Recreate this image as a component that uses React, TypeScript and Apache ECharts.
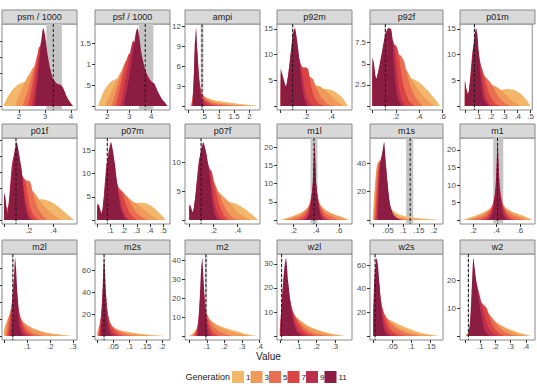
import React, { useEffect, useRef } from 'react';
import * as echarts from 'echarts';

type Pt = [number, number];
type Curves = Pt[][];

const generations = ['1', '3', '5', '7', '9', '11'];
const genColors = ['#f2b76b', '#f09a5a', '#ea6e51', '#da4544', '#bc2e4e', '#8c1d42'];

const facetNames = [
  'psm / 1000', 'psf / 1000', 'ampi', 'p92m', 'p92f', 'p01m',
  'p01f', 'p07m', 'p07f', 'm1l', 'm1s', 'm1',
  'm2l', 'm2s', 'm2', 'w2l', 'w2s', 'w2',
];

const xRanges: [number, number][] = [
  [1.35, 4.23], [1.44, 4.86], [-0.115, 2.35], [-0.029, 0.56], [-0.02, 0.603], [-0.037, 0.512],
  [-0.016, 0.59], [-0.017, 0.55], [-0.036, 0.584], [0.055, 0.714], [-0.009, 0.229], [0.086, 0.729],
  [-0.009, 0.316], [-0.007, 0.224], [-0.024, 0.402], [-0.016, 0.393], [-0.009, 0.184], [-0.033, 0.46],
];

const xTicks: number[][] = [
  [2, 3, 4], [2, 3, 4], [0, 0.5, 1, 1.5, 2], [0, 0.2, 0.4], [0, 0.2, 0.4, 0.6], [0, 0.1, 0.2, 0.3, 0.4, 0.5],
  [0, 0.2, 0.4], [0, 0.1, 0.2, 0.3, 0.4, 0.5], [0, 0.2, 0.4], [0.2, 0.4, 0.6], [0, 0.05, 0.1, 0.15, 0.2], [0.2, 0.4, 0.6],
  [0, 0.1, 0.2, 0.3], [0, 0.05, 0.1, 0.15, 0.2], [0, 0.1, 0.2, 0.3, 0.4], [0, 0.1, 0.2, 0.3], [0, 0.05, 0.1, 0.15], [0, 0.1, 0.2, 0.3, 0.4],
];

const yTicks: number[][] = [
  [0, 0.5, 1, 1.5, 2], [0, 0.5, 1, 1.5], [0, 3, 6, 9, 12], [0, 5, 10, 15], [0, 2.5, 5, 7.5], [0, 5, 10, 15],
  [0, 3, 6, 9, 12, 15], [0, 5, 10, 15], [0, 5, 10], [0, 5, 10, 15, 20], [0, 20, 40], [0, 5, 10, 15, 20],
  [0, 15, 30, 45, 60], [0, 20, 40, 60], [0, 10, 20, 30, 40], [0, 10, 20, 30], [0, 20, 40, 60], [0, 10, 20],
];

const bandLo = [3.05, 3.44, 0.40, 0.088, 0.105, 0.068, 0.092, 0.072, 0.092, 0.35, 0.109, 0.371, 0.035, 0.019, 0.089, 0.007, 0.003, 0.019];
const bandHi = [3.65, 4.10, 0.49, 0.100, 0.117, 0.078, 0.102, 0.080, 0.102, 0.41, 0.132, 0.457, 0.041, 0.023, 0.102, 0.011, 0.006, 0.025];
const refLine = [3.32, 3.73, 0.445, 0.094, 0.111, 0.073, 0.097, 0.076, 0.097, 0.38, 0.122, 0.408, 0.038, 0.021, 0.095, 0.009, 0.0045, 0.022];

const psm: Curves = [
  [[1.40, 0], [1.55, 0.25], [1.75, 0.5], [2.0, 0.68], [2.25, 0.76], [2.5, 0.8], [2.8, 0.8], [3.1, 0.75], [3.4, 0.62], [3.7, 0.45], [3.9, 0.2], [4.08, 0]],
  [[1.85, 0], [2.05, 0.4], [2.3, 0.85], [2.45, 1.05], [2.55, 1.19], [2.7, 1.1], [2.95, 0.95], [3.2, 0.8], [3.5, 0.6], [3.7, 0.5], [3.9, 0.2], [4.08, 0]],
  [[2.15, 0], [2.35, 0.5], [2.55, 1.1], [2.65, 1.4], [2.72, 1.59], [2.85, 1.45], [3.0, 1.2], [3.2, 0.9], [3.45, 0.65], [3.65, 0.58], [3.85, 0.25], [4.05, 0]],
  [[2.35, 0], [2.55, 0.8], [2.7, 1.5], [2.78, 1.84], [2.9, 1.7], [3.05, 1.35], [3.25, 0.9], [3.45, 0.66], [3.65, 0.6], [3.85, 0.25], [4.05, 0]],
  [[2.5, 0], [2.65, 0.9], [2.78, 1.6], [2.86, 2.0], [2.95, 1.9], [3.1, 1.45], [3.3, 0.85], [3.5, 0.66], [3.65, 0.62], [3.85, 0.25], [4.05, 0]],
  [[2.6, 0], [2.72, 0.8], [2.82, 1.7], [2.9, 2.3], [2.94, 2.41], [3.0, 2.2], [3.1, 1.6], [3.2, 1.15], [3.3, 0.85], [3.45, 0.7], [3.6, 0.66], [3.7, 0.55], [3.85, 0.25], [4.0, 0.06], [4.1, 0]],
];

const psf: Curves = [
  [[1.58, 0], [1.75, 0.25], [1.95, 0.45], [2.2, 0.6], [2.45, 0.65], [2.7, 0.63], [3.0, 0.6], [3.4, 0.55], [3.8, 0.5], [4.1, 0.45], [4.4, 0.2], [4.7, 0]],
  [[1.9, 0], [2.15, 0.3], [2.4, 0.6], [2.6, 0.8], [2.73, 0.87], [2.9, 0.82], [3.2, 0.72], [3.6, 0.6], [4.0, 0.5], [4.2, 0.42], [4.45, 0.18], [4.72, 0]],
  [[2.2, 0], [2.45, 0.45], [2.7, 0.9], [2.88, 1.1], [3.05, 1.0], [3.35, 0.85], [3.7, 0.65], [4.1, 0.5], [4.3, 0.32], [4.5, 0.15], [4.72, 0]],
  [[2.4, 0], [2.65, 0.6], [2.85, 1.05], [3.0, 1.26], [3.15, 1.15], [3.4, 0.95], [3.7, 0.75], [4.0, 0.55], [4.15, 0.5], [4.35, 0.28], [4.55, 0.1], [4.73, 0]],
  [[2.6, 0], [2.85, 0.7], [3.05, 1.3], [3.18, 1.57], [3.3, 1.45], [3.5, 1.15], [3.75, 0.82], [4.0, 0.6], [4.15, 0.52], [4.35, 0.3], [4.6, 0.08], [4.74, 0]],
  [[2.75, 0], [3.0, 0.7], [3.2, 1.4], [3.32, 1.8], [3.38, 1.87], [3.45, 1.7], [3.56, 1.26], [3.71, 0.91], [3.86, 0.67], [4.0, 0.58], [4.14, 0.54], [4.32, 0.32], [4.5, 0.15], [4.62, 0.09], [4.75, 0]],
];

const ampi: Curves = [
  [[0.05, 0], [0.15, 1.0], [0.3, 1.5], [0.45, 1.6], [0.6, 1.3], [0.8, 0.95], [1.1, 0.7], [1.4, 0.5], [1.7, 0.3], [2.0, 0.15], [2.3, 0]],
  [[0.08, 0], [0.18, 1.8], [0.28, 2.6], [0.4, 2.2], [0.5, 1.5], [0.7, 0.9], [0.9, 0.6], [1.2, 0.35], [1.5, 0.2], [1.9, 0.08], [2.2, 0]],
  [[0.1, 0], [0.2, 3.5], [0.26, 4.8], [0.35, 3.5], [0.45, 1.9], [0.6, 1.0], [0.8, 0.5], [1.1, 0.25], [1.5, 0.1], [2.0, 0]],
  [[0.12, 0], [0.2, 5], [0.25, 7], [0.32, 5], [0.4, 2.4], [0.5, 1.1], [0.7, 0.4], [1.0, 0.1], [1.3, 0]],
  [[0.13, 0], [0.2, 7], [0.25, 9.8], [0.3, 7.5], [0.37, 3.5], [0.45, 1.3], [0.6, 0.3], [0.75, 0]],
  [[0.14, 0], [0.17, 2.5], [0.2, 8.5], [0.25, 11.75], [0.29, 8.5], [0.335, 4.5], [0.4, 1.6], [0.45, 0.6], [0.55, 0]],
];

const p92m: Curves = [
  [[0, 1.2], [0.05, 1.8], [0.1, 2.4], [0.2, 2.9], [0.3, 3.2], [0.36, 3.3], [0.42, 2.9], [0.47, 2.0], [0.5, 1.1], [0.53, 0]],
  [[0, 2.5], [0.05, 3.2], [0.1, 4.5], [0.15, 4.8], [0.2, 4.5], [0.26, 4.1], [0.31, 3.8], [0.37, 2.6], [0.43, 1.2], [0.49, 0]],
  [[0, 3.5], [0.04, 3.5], [0.1, 6.5], [0.15, 7], [0.2, 6.2], [0.24, 5.5], [0.256, 5.2], [0.28, 3.5], [0.32, 1.6], [0.37, 0.4], [0.42, 0]],
  [[0, 5], [0.04, 3.6], [0.1, 9.5], [0.14, 9], [0.17, 7.6], [0.2, 7.5], [0.215, 7.2], [0.235, 4.5], [0.26, 2], [0.3, 0.5], [0.34, 0]],
  [[0, 6.5], [0.04, 3.7], [0.09, 12], [0.12, 12.5], [0.14, 10], [0.16, 7.8], [0.18, 4.5], [0.2, 2], [0.23, 0.5], [0.26, 0]],
  [[0, 7.4], [0.015, 6], [0.042, 3.85], [0.07, 8], [0.095, 14], [0.112, 15.2], [0.125, 13.5], [0.138, 11], [0.15, 8], [0.165, 4.5], [0.185, 1.5], [0.21, 0]],
];

const p92f: Curves = [
  [[0, 1.0], [0.05, 1.5], [0.12, 2.3], [0.2, 2.9], [0.28, 3.2], [0.33, 3.25], [0.4, 2.8], [0.47, 1.9], [0.53, 0.9], [0.58, 0]],
  [[0, 2], [0.05, 2.6], [0.12, 4], [0.2, 4.6], [0.27, 4.5], [0.3, 4.1], [0.33, 3.3], [0.38, 2.2], [0.45, 0.9], [0.53, 0]],
  [[0, 3], [0.05, 3], [0.12, 5.5], [0.18, 6.3], [0.24, 6], [0.27, 5.3], [0.29, 4.2], [0.32, 2.5], [0.37, 1], [0.43, 0]],
  [[0, 4], [0.04, 3.2], [0.1, 6], [0.16, 7.4], [0.2, 7.2], [0.22, 6.5], [0.24, 4.5], [0.27, 2.2], [0.31, 0.7], [0.36, 0]],
  [[0, 5], [0.035, 3.2], [0.09, 6.5], [0.14, 8.5], [0.175, 7.8], [0.19, 7], [0.205, 5], [0.225, 2.5], [0.25, 0.8], [0.28, 0]],
  [[0, 5.73], [0.012, 5.2], [0.033, 3.2], [0.07, 5.5], [0.11, 8.5], [0.139, 9.24], [0.16, 9.1], [0.172, 8], [0.185, 5], [0.2, 2.5], [0.22, 0.8], [0.25, 0]],
];

const p01m: Curves = [
  [[0, 1], [0.05, 1.5], [0.1, 2], [0.18, 2.6], [0.25, 3.0], [0.32, 3.3], [0.37, 3.2], [0.42, 2.5], [0.46, 1.5], [0.5, 0]],
  [[0, 2], [0.04, 2.5], [0.08, 4.5], [0.12, 4.8], [0.17, 4.3], [0.22, 4], [0.26, 3.4], [0.3, 2.5], [0.36, 1.1], [0.43, 0]],
  [[0, 3], [0.03, 2.6], [0.07, 6.5], [0.1, 7.5], [0.14, 6.2], [0.18, 5], [0.21, 4], [0.25, 2], [0.3, 0.6], [0.35, 0]],
  [[0, 4], [0.025, 2.3], [0.065, 9], [0.09, 10.5], [0.115, 8.5], [0.14, 6.5], [0.16, 4.5], [0.19, 2], [0.23, 0.5], [0.27, 0]],
  [[0, 4.8], [0.024, 2.1], [0.06, 11], [0.085, 13], [0.105, 10.5], [0.12, 8], [0.135, 5], [0.155, 2], [0.18, 0.5], [0.21, 0]],
  [[0, 5.25], [0.01, 3.5], [0.024, 2.0], [0.045, 6], [0.07, 13], [0.085, 15.2], [0.095, 14], [0.105, 10.5], [0.118, 6], [0.13, 3], [0.15, 1], [0.18, 0]],
];

const p01f: Curves = [
  [[0, 1], [0.05, 1.6], [0.12, 2.5], [0.2, 3.3], [0.27, 3.8], [0.31, 3.9], [0.37, 3.5], [0.44, 2.5], [0.5, 1.3], [0.57, 0]],
  [[0, 2], [0.04, 2.6], [0.1, 5], [0.15, 6.2], [0.2, 6], [0.25, 5], [0.28, 4], [0.33, 2.5], [0.4, 1], [0.47, 0]],
  [[0, 3], [0.03, 2.2], [0.08, 7], [0.12, 8.5], [0.17, 7.5], [0.21, 7.2], [0.23, 5.5], [0.26, 3], [0.3, 1.2], [0.35, 0]],
  [[0, 3.8], [0.028, 1.6], [0.07, 9], [0.1, 11], [0.14, 8.5], [0.17, 7.5], [0.19, 5], [0.21, 2.5], [0.24, 0.8], [0.28, 0]],
  [[0, 4.5], [0.027, 1.3], [0.065, 10.5], [0.095, 13], [0.13, 10.5], [0.15, 8], [0.165, 5], [0.185, 2.5], [0.21, 0.7], [0.24, 0]],
  [[0, 5.1], [0.012, 4.2], [0.027, 1.1], [0.05, 5], [0.08, 12], [0.103, 14.6], [0.114, 13.5], [0.124, 12.1], [0.143, 9.4], [0.155, 6], [0.17, 3], [0.19, 1], [0.21, 0]],
];

const p07m: Curves = [
  [[0, 0.8], [0.05, 1.3], [0.12, 2], [0.2, 2.8], [0.27, 3.4], [0.32, 3.7], [0.37, 3.6], [0.42, 2.8], [0.47, 1.5], [0.52, 0]],
  [[0, 1.5], [0.04, 2], [0.09, 4.5], [0.14, 5.8], [0.2, 5.6], [0.26, 4.2], [0.3, 3.5], [0.35, 2.3], [0.41, 1], [0.47, 0]],
  [[0, 2.2], [0.035, 1.6], [0.08, 7], [0.12, 8.5], [0.16, 7], [0.2, 5.9], [0.23, 4.8], [0.26, 3.2], [0.3, 1.5], [0.35, 0.4], [0.39, 0]],
  [[0, 2.8], [0.034, 1.4], [0.075, 10], [0.105, 12], [0.14, 8.5], [0.17, 6.5], [0.19, 5.8], [0.21, 4], [0.24, 1.8], [0.28, 0.4], [0.31, 0]],
  [[0, 3.1], [0.033, 1.3], [0.07, 12], [0.1, 14.5], [0.13, 11], [0.15, 8], [0.17, 5], [0.19, 2.5], [0.22, 0.6], [0.25, 0]],
  [[0, 3.4], [0.012, 3.3], [0.033, 1.3], [0.055, 6], [0.085, 14.5], [0.104, 16.8], [0.118, 15], [0.134, 12], [0.15, 8], [0.165, 4.5], [0.185, 1.8], [0.21, 0.4], [0.23, 0]],
];

const p07f: Curves = [
  [[0, 0.6], [0.05, 1], [0.12, 1.7], [0.2, 2.5], [0.27, 3.1], [0.32, 3.2], [0.38, 2.9], [0.45, 2.1], [0.51, 1.1], [0.57, 0]],
  [[0, 1.2], [0.04, 1.5], [0.1, 3.8], [0.16, 5], [0.22, 5.2], [0.27, 4.3], [0.32, 3.3], [0.38, 1.8], [0.45, 0.6], [0.52, 0]],
  [[0, 1.8], [0.03, 1.4], [0.09, 6], [0.14, 7.8], [0.19, 7.2], [0.226, 5.6], [0.25, 4.4], [0.28, 2.8], [0.32, 1.2], [0.37, 0.3], [0.41, 0]],
  [[0, 2.2], [0.03, 1.3], [0.085, 8.5], [0.125, 10], [0.16, 9], [0.185, 8.5], [0.2, 7], [0.22, 5], [0.25, 2.5], [0.29, 0.7], [0.33, 0]],
  [[0, 2.5], [0.029, 1.3], [0.08, 10.5], [0.115, 12.2], [0.15, 10], [0.17, 8.8], [0.185, 7], [0.2, 4.5], [0.22, 2], [0.25, 0.5], [0.28, 0]],
  [[0, 2.7], [0.01, 2.5], [0.028, 1.3], [0.055, 5], [0.09, 11.5], [0.116, 13.6], [0.13, 12.6], [0.144, 11.3], [0.16, 9], [0.175, 6], [0.19, 3.2], [0.21, 1], [0.235, 0]],
];

const m1l: Curves = [
  [[0.08, 0], [0.14, 0.6], [0.2, 1.2], [0.26, 2], [0.31, 3], [0.36, 4.5], [0.385, 5.2], [0.41, 4.5], [0.46, 3], [0.52, 2], [0.58, 1.3], [0.64, 0.7], [0.69, 0]],
  [[0.11, 0], [0.21, 1], [0.28, 2.1], [0.33, 3.6], [0.36, 5.5], [0.385, 7.5], [0.41, 5.5], [0.46, 3.3], [0.52, 2], [0.58, 1.1], [0.64, 0.4], [0.68, 0]],
  [[0.15, 0], [0.26, 1.2], [0.32, 3], [0.36, 6], [0.385, 10], [0.41, 6], [0.45, 3], [0.5, 1.5], [0.58, 0.4], [0.62, 0]],
  [[0.23, 0], [0.3, 1.2], [0.335, 3.5], [0.365, 8], [0.385, 14], [0.405, 8], [0.435, 3.5], [0.47, 1.2], [0.53, 0]],
  [[0.28, 0], [0.32, 1.2], [0.345, 3.5], [0.37, 10], [0.385, 18], [0.4, 10], [0.425, 3.5], [0.45, 1.2], [0.49, 0]],
  [[0.31, 0], [0.335, 1.5], [0.352, 4.5], [0.368, 9], [0.385, 21.5], [0.402, 9], [0.418, 4.5], [0.435, 1.5], [0.46, 0]],
];

const m1s: Curves = [
  [[0, 0], [0.004, 15], [0.01, 30], [0.016, 38], [0.022, 36], [0.03, 26], [0.045, 13], [0.06, 8], [0.08, 4.5], [0.11, 2.5], [0.15, 1.3], [0.19, 0.6], [0.225, 0]],
  [[0.002, 0], [0.006, 18], [0.012, 36], [0.018, 41], [0.025, 38], [0.035, 27], [0.05, 14], [0.065, 6], [0.085, 2.5], [0.11, 1.2], [0.15, 0.4], [0.2, 0]],
  [[0.005, 0], [0.009, 16], [0.015, 36], [0.022, 42], [0.03, 38], [0.04, 28], [0.052, 12], [0.065, 4], [0.085, 1.2], [0.11, 0.3], [0.14, 0]],
  [[0.008, 0], [0.012, 15], [0.018, 34], [0.025, 42], [0.033, 45], [0.042, 35], [0.052, 16], [0.065, 4], [0.085, 0.8], [0.11, 0]],
  [[0.012, 0], [0.016, 16], [0.022, 38], [0.03, 46], [0.036, 50], [0.043, 38], [0.051, 18], [0.062, 5], [0.078, 0.8], [0.1, 0]],
  [[0.016, 0], [0.02, 20], [0.024, 38], [0.03, 46], [0.037, 55], [0.043, 39], [0.048, 27], [0.056, 11], [0.067, 4], [0.078, 1.5], [0.095, 0]],
];

const m1: Curves = [
  [[0.11, 0], [0.16, 0.6], [0.22, 1.3], [0.28, 2.1], [0.33, 3], [0.38, 4.5], [0.41, 5.2], [0.44, 4.5], [0.49, 3.2], [0.55, 2.2], [0.61, 1.5], [0.66, 0.8], [0.71, 0]],
  [[0.13, 0], [0.23, 1], [0.3, 2.1], [0.355, 3.6], [0.385, 5.5], [0.41, 7.5], [0.435, 5.5], [0.48, 3.4], [0.54, 2.1], [0.6, 1.1], [0.66, 0.4], [0.7, 0]],
  [[0.17, 0], [0.28, 1.2], [0.345, 3], [0.385, 6], [0.41, 10], [0.435, 6], [0.475, 3], [0.53, 1.5], [0.61, 0.4], [0.65, 0]],
  [[0.25, 0], [0.32, 1.2], [0.358, 3.5], [0.39, 8], [0.41, 14], [0.43, 8], [0.462, 3.5], [0.5, 1.2], [0.56, 0]],
  [[0.3, 0], [0.34, 1.2], [0.368, 3.5], [0.393, 10], [0.41, 18.5], [0.427, 10], [0.452, 3.5], [0.48, 1.2], [0.52, 0]],
  [[0.335, 0], [0.36, 1.5], [0.375, 4], [0.392, 9], [0.409, 22.3], [0.426, 9], [0.443, 4], [0.458, 1.5], [0.485, 0]],
];

const m2l: Curves = [
  [[0, 3], [0.005, 9], [0.015, 13], [0.03, 14.5], [0.05, 14], [0.075, 12.5], [0.1, 9.5], [0.13, 6.5], [0.17, 3.9], [0.21, 2.3], [0.25, 1.3], [0.3, 0]],
  [[0, 4], [0.01, 12], [0.025, 19], [0.04, 21], [0.06, 18], [0.08, 13], [0.1, 10], [0.13, 6], [0.17, 3], [0.21, 1.2], [0.26, 0]],
  [[0.008, 0], [0.018, 14], [0.032, 25], [0.045, 28], [0.06, 22], [0.075, 15], [0.095, 8.5], [0.12, 3.5], [0.15, 1], [0.18, 0]],
  [[0.015, 0], [0.025, 15], [0.037, 35], [0.047, 40], [0.06, 27], [0.072, 16], [0.088, 7], [0.105, 2.5], [0.13, 0]],
  [[0.022, 0], [0.03, 16], [0.04, 45], [0.047, 55], [0.056, 40], [0.066, 20], [0.078, 7], [0.092, 2], [0.11, 0]],
  [[0.03, 0], [0.036, 12], [0.041, 40], [0.045, 62], [0.048, 69.5], [0.052, 60], [0.056, 44], [0.062, 18.5], [0.069, 6.6], [0.078, 1.5], [0.09, 0]],
];

const m2s: Curves = [
  [[0, 2], [0.006, 6], [0.015, 8.5], [0.025, 9], [0.04, 8], [0.06, 6], [0.085, 4.3], [0.11, 3], [0.14, 2], [0.17, 1.1], [0.2, 0.4], [0.21, 0]],
  [[0, 3], [0.006, 9], [0.014, 13], [0.022, 14], [0.035, 11.5], [0.05, 8], [0.07, 5], [0.095, 2.8], [0.12, 1.4], [0.16, 0.4], [0.19, 0]],
  [[0.002, 0], [0.008, 12], [0.016, 20], [0.024, 21], [0.034, 15], [0.045, 9.5], [0.06, 5.5], [0.08, 2.5], [0.1, 1], [0.13, 0]],
  [[0.005, 0], [0.01, 15], [0.017, 30], [0.023, 33], [0.03, 24], [0.04, 12], [0.05, 6], [0.065, 2], [0.085, 0]],
  [[0.008, 0], [0.012, 20], [0.018, 45], [0.022, 50], [0.027, 38], [0.033, 18], [0.04, 7], [0.05, 2], [0.065, 0]],
  [[0.011, 0], [0.014, 20], [0.018, 55], [0.021, 71.2], [0.024, 58], [0.028, 30], [0.032, 12], [0.037, 4], [0.045, 0]],
];

const m2: Curves = [
  [[0, 0], [0.02, 1.5], [0.04, 3.5], [0.06, 5.5], [0.08, 7], [0.1, 7.5], [0.13, 6.8], [0.17, 5.5], [0.21, 4.2], [0.26, 2.8], [0.31, 1.4], [0.35, 0.6], [0.39, 0]],
  [[0.01, 0], [0.03, 2], [0.05, 5], [0.07, 8.5], [0.09, 10], [0.11, 9.5], [0.14, 7], [0.18, 4.6], [0.23, 2.6], [0.28, 1.2], [0.33, 0.3], [0.36, 0]],
  [[0.022, 0], [0.04, 3], [0.06, 9], [0.08, 13], [0.1, 11.5], [0.12, 8], [0.14, 5], [0.17, 2.5], [0.21, 0.8], [0.25, 0]],
  [[0.032, 0], [0.045, 4], [0.062, 14], [0.077, 20], [0.092, 15], [0.105, 9], [0.12, 4.5], [0.14, 1.5], [0.17, 0]],
  [[0.04, 0], [0.05, 7], [0.063, 22], [0.075, 30], [0.088, 20], [0.098, 11], [0.11, 4], [0.125, 1], [0.14, 0]],
  [[0.048, 0], [0.055, 8], [0.061, 22], [0.068, 36], [0.074, 41.4], [0.079, 34], [0.085, 24], [0.091, 14], [0.098, 6], [0.106, 1.5], [0.115, 0]],
];

const w2l: Curves = [
  [[0, 2], [0.01, 5], [0.03, 7], [0.05, 7.5], [0.08, 7], [0.11, 6], [0.15, 4.3], [0.19, 3], [0.24, 1.8], [0.29, 0.9], [0.33, 0.4], [0.37, 0]],
  [[0, 3], [0.01, 7], [0.03, 10.5], [0.05, 10.5], [0.075, 9], [0.1, 7.2], [0.14, 4.8], [0.18, 3], [0.23, 1.5], [0.28, 0.6], [0.34, 0]],
  [[0, 3.5], [0.01, 9], [0.028, 15], [0.045, 14.5], [0.065, 11], [0.09, 7.5], [0.12, 4.6], [0.15, 2.6], [0.19, 1.1], [0.24, 0.3], [0.28, 0]],
  [[0, 3], [0.01, 11], [0.027, 20], [0.042, 18.5], [0.06, 13], [0.08, 8.5], [0.105, 5], [0.13, 2.3], [0.16, 0.8], [0.2, 0]],
  [[0, 2.5], [0.008, 12], [0.025, 26], [0.037, 25], [0.052, 17], [0.07, 9.5], [0.09, 4.5], [0.11, 1.8], [0.14, 0.4], [0.16, 0]],
  [[0.003, 0], [0.007, 6], [0.015, 18.5], [0.024, 28.4], [0.033, 32.5], [0.045, 22.7], [0.06, 12], [0.075, 5.5], [0.09, 2], [0.11, 0.4], [0.125, 0]],
];

const w2s: Curves = [
  [[0, 4], [0.005, 10], [0.012, 13], [0.02, 14], [0.03, 14], [0.045, 13.3], [0.06, 11], [0.08, 8], [0.1, 5.5], [0.12, 3.2], [0.14, 1.8], [0.16, 0.8], [0.18, 0]],
  [[0, 6], [0.005, 14], [0.012, 19], [0.02, 19.5], [0.03, 16], [0.045, 12.5], [0.06, 9], [0.08, 5.5], [0.1, 3.2], [0.12, 1.6], [0.15, 0.5], [0.17, 0]],
  [[0, 9], [0.004, 20], [0.01, 28], [0.018, 27], [0.027, 20], [0.037, 15], [0.05, 9.5], [0.065, 5.5], [0.085, 2.5], [0.11, 0.8], [0.135, 0]],
  [[0, 13], [0.004, 30], [0.009, 40], [0.016, 36], [0.024, 24], [0.033, 14], [0.043, 7], [0.055, 3], [0.07, 1], [0.09, 0]],
  [[0, 18], [0.003, 40], [0.008, 54], [0.014, 48], [0.02, 30], [0.027, 15], [0.035, 6], [0.045, 2], [0.06, 0]],
  [[0, 22], [0.002, 45], [0.006, 62], [0.009, 66], [0.012, 60], [0.016, 44], [0.021, 22], [0.025, 11], [0.03, 4], [0.037, 1], [0.045, 0]],
];

const w2: Curves = [
  [[0, 0], [0.02, 1], [0.05, 2.5], [0.08, 3.8], [0.12, 4.6], [0.16, 4.8], [0.2, 4.5], [0.25, 3.5], [0.3, 2.3], [0.35, 1.3], [0.4, 0.6], [0.44, 0]],
  [[0.005, 0], [0.03, 2], [0.06, 5], [0.09, 6.5], [0.13, 7], [0.17, 6.4], [0.21, 4.8], [0.25, 3.4], [0.3, 1.8], [0.35, 0.7], [0.41, 0]],
  [[0.01, 0], [0.035, 3], [0.06, 8], [0.09, 10], [0.12, 9.5], [0.15, 8.5], [0.187, 6], [0.22, 3.5], [0.26, 1.6], [0.31, 0.5], [0.36, 0]],
  [[0.015, 0], [0.035, 4], [0.055, 11], [0.08, 14], [0.11, 12], [0.143, 10], [0.165, 6], [0.19, 3], [0.22, 1.2], [0.26, 0]],
  [[0.018, 0], [0.035, 5], [0.05, 15], [0.07, 20], [0.095, 15], [0.12, 9], [0.14, 5], [0.16, 2.3], [0.19, 0.6], [0.22, 0]],
  [[0.022, 0], [0.03, 3], [0.04, 12], [0.048, 22], [0.055, 28.2], [0.065, 24], [0.077, 18.5], [0.099, 10], [0.115, 5], [0.13, 2], [0.15, 0.5], [0.17, 0]],
];

const densities: Curves[] = [psm, psf, ampi, p92m, p92f, p01m, p01f, p07m, p07f, m1l, m1s, m1, m2l, m2s, m2, w2l, w2s, w2];

// layout
const colLeft = [2, 95, 185, 277, 370, 460];
const colWidth = [75, 75, 75, 75, 73, 75];
const rowTop = [24, 138, 254];
const plotH = 86;
const stripH = 14;
const FONT = '"Liberation Sans", Arial, Helvetica, sans-serif';

const fmtTick = (v: number) => (v === 0 ? '' : String(parseFloat(v.toFixed(4))).replace(/^0\./, '.'));

function buildOption() {
  const grid: any[] = [];
  const xAxis: any[] = [];
  const yAxis: any[] = [];
  const series: any[] = [];
  const graphic: any[] = [];

  facetNames.forEach((name, i) => {
    const r = Math.floor(i / 6);
    const c = i % 6;
    const left = colLeft[c];
    const width = colWidth[c];
    const top = rowTop[r];
    const curves = densities[i];
    let peak = 0;
    curves.forEach((cv) => cv.forEach((p) => { if (p[1] > peak) peak = p[1]; }));

    grid.push({ left, top, width, height: plotH, show: true, borderColor: '#8a8a8a', borderWidth: 1, backgroundColor: '#ffffff', containLabel: false });

    xAxis.push({
      type: 'value', gridIndex: i, min: xRanges[i][0], max: xRanges[i][1],
      axisLine: { show: false, onZero: false },
      splitLine: { show: false },
      axisTick: { show: true, length: 3, lineStyle: { color: '#333333', width: 1 }, customValues: xTicks[i] },
      axisLabel: { customValues: xTicks[i], formatter: fmtTick, fontSize: 8, color: '#4d4d4d', margin: 2, fontFamily: FONT },
    });
    yAxis.push({
      type: 'value', gridIndex: i, min: -0.05 * peak, max: 1.05 * peak,
      axisLine: { show: false, onZero: false },
      splitLine: { show: false },
      axisTick: { show: true, length: 3, lineStyle: { color: '#333333', width: 1 }, customValues: yTicks[i] },
      axisLabel: { show: c > 0, customValues: yTicks[i], formatter: fmtTick, fontSize: 8, color: '#4d4d4d', margin: 4, fontFamily: FONT },
    });

    series.push({
      type: 'custom', xAxisIndex: i, yAxisIndex: i, z: 1, silent: true,
      data: [[bandLo[i], bandHi[i]]],
      renderItem: (params: any, api: any) => {
        const cs = params.coordSys;
        const x0 = api.coord([api.value(0), 0])[0];
        const x1 = api.coord([api.value(1), 0])[0];
        return { type: 'rect', shape: { x: x0, y: cs.y, width: Math.max(x1 - x0, 1), height: cs.height }, style: { fill: '#c4c4c4' } };
      },
    });

    curves.forEach((cv, g) => {
      series.push({
        type: 'line', name: generations[g], xAxisIndex: i, yAxisIndex: i, z: 2, silent: true,
        data: cv, showSymbol: false, symbol: 'none', smooth: 0.2,
        lineStyle: { width: 0, opacity: 0 },
        areaStyle: { color: genColors[g], opacity: 1 },
      });
    });

    series.push({
      type: 'custom', xAxisIndex: i, yAxisIndex: i, z: 3, silent: true,
      data: [[refLine[i], 0]],
      renderItem: (params: any, api: any) => {
        const cs = params.coordSys;
        const x = api.coord([api.value(0), 0])[0];
        return { type: 'line', shape: { x1: x, y1: cs.y, x2: x, y2: cs.y + cs.height }, style: { stroke: '#1a1a1a', lineWidth: 1, lineDash: [3, 2] } };
      },
    });

    graphic.push({ type: 'rect', shape: { x: left, y: top - stripH, width, height: stripH }, style: { fill: '#d9d9d9', stroke: '#8a8a8a', lineWidth: 1 }, silent: true });
    graphic.push({ type: 'text', x: left + width / 2, y: top - stripH / 2, style: { text: name, fill: '#1a1a1a', fontSize: 9, fontFamily: FONT, align: 'center', verticalAlign: 'middle' }, silent: true });
  });

  graphic.push({ type: 'text', x: 268.5, y: 356, style: { text: 'Value', fill: '#1a1a1a', fontSize: 10, fontFamily: FONT, align: 'center', verticalAlign: 'middle' } });
  graphic.push({ type: 'text', x: 230, y: 377, style: { text: 'Generation', fill: '#1a1a1a', fontSize: 9, fontFamily: FONT, align: 'right', verticalAlign: 'middle' } });
  generations.forEach((g, k) => {
    const kx = 232 + k * 18.5;
    graphic.push({ type: 'rect', shape: { x: kx, y: 371, width: 12, height: 12 }, style: { fill: genColors[k] } });
    graphic.push({ type: 'text', x: kx + 14, y: 377, style: { text: g, fill: '#1a1a1a', fontSize: 8, fontFamily: FONT, align: 'left', verticalAlign: 'middle' } });
  });

  return { animation: false, backgroundColor: '#ffffff', grid, xAxis, yAxis, series, graphic };
}

export default function App() {
  const ref = useRef<HTMLDivElement>(null);
  useEffect(() => {
    if (!ref.current) return;
    const chart = echarts.init(ref.current, undefined, { renderer: 'svg' });
    chart.setOption(buildOption() as any);
    return () => chart.dispose();
  }, []);
  return <div ref={ref} style={{ position: 'fixed', left: 0, top: 0, width: 537, height: 387 }} />;
}
